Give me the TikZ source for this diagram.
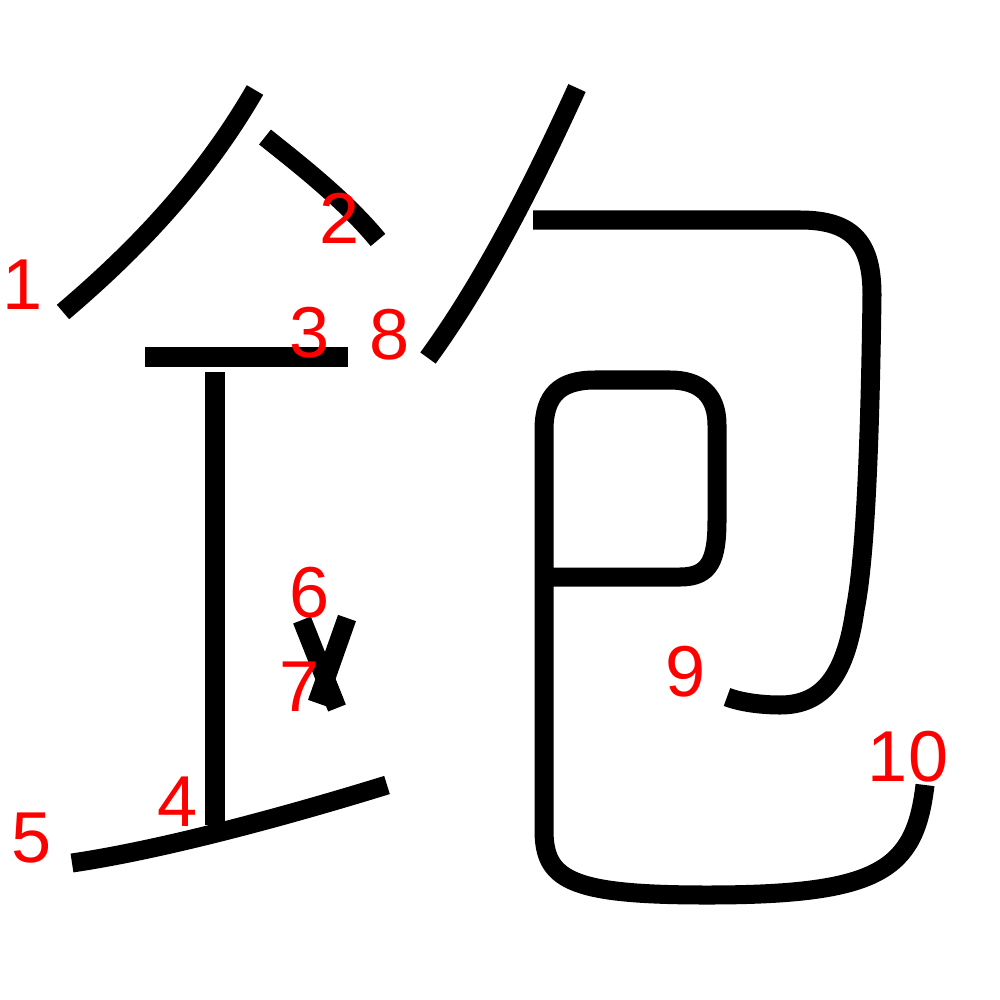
\documentclass[tikz,border=0pt]{standalone}
\usepackage{fontspec}
\setsansfont{Liberation Sans}
\usetikzlibrary{positioning}

\begin{document}
\begin{tikzpicture}[x=0.01cm,y=-0.01cm,stroke/.style={line width=0.19cm,line cap=butt,line join=round},num/.style={text=red,inner sep=0pt,font=\sffamily\fontsize{20.5}{24}\selectfont}]
\useasboundingbox (0,0) rectangle (1000,1000);
\draw[stroke] (255,90) .. controls (200,185) and (130,255) .. (63,312);
\draw[stroke] (265,137) .. controls (300,165) and (345,200) .. (378,240);
\draw[stroke] (145,357) -- (348,357);
\draw[stroke] (215,372) -- (215,825);
\draw[stroke] (72,863) .. controls (160,850) and (280,818) .. (387,785);
\draw[stroke] (302,620) -- (337,708);
\draw[stroke] (347,618) -- (317,703);
\draw[stroke] (577,88) .. controls (535,180) and (485,280) .. (428,358);
\draw[stroke] (533,220) -- (800,220) .. controls (855,220) and (872,245) .. (872,295) .. controls (870,450) and (865,560) .. (855,610) .. controls (845,680) and (820,705) .. (780,705) .. controls (760,705) and (740,702) .. (727,697);
\draw[stroke] (547,577) -- (680,577) .. controls (710,577) and (717,560) .. (717,520) -- (717,425) .. controls (717,395) and (700,380) .. (670,380) -- (595,380) .. controls (560,380) and (544,395) .. (544,430) -- (544,830) .. controls (544,880) and (570,895) .. (707,895) .. controls (880,895) and (915,870) .. (925,785);
\node[num] (n1) at (23,285) {1};
\node[num] (n2) at (340,218) {2};
\node[num] (n3) at (310,333) {3};
\node[num] (n4) at (178,802) {4};
\node[num] (n5) at (32,838) {5};
\node[num] (n6) at (310,593) {6};
\node[num] (n7) at (300,687) {7};
\node[num] (n8) at (390,335) {8};
\node[num] (n9) at (686,672) {9};
\node[num] (n10) at (908,757) {10};
\end{tikzpicture}
\end{document}
